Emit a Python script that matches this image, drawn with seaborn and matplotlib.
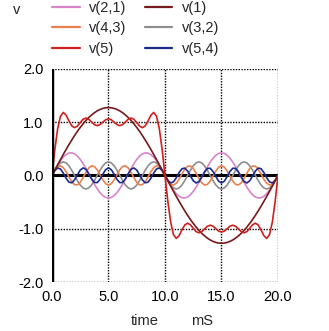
import matplotlib
matplotlib.use("Agg")
import matplotlib.pyplot as plt
from matplotlib.lines import Line2D
import seaborn as sns
import pandas as pd

# time axis (ms), sampled every 0.25 ms
time = [i * 0.25 for i in range(81)]

v1 = [0, 0.100, 0.199, 0.297, 0.394, 0.487, 0.578, 0.665, 0.748, 0.827, 0.900, 0.968, 1.030, 1.086, 1.134, 1.176, 1.211, 1.238, 1.258, 1.269, 1.273,
      1.269, 1.258, 1.238, 1.211, 1.176, 1.134, 1.086, 1.030, 0.968, 0.900, 0.827, 0.748, 0.665, 0.578, 0.487, 0.394, 0.297, 0.199, 0.100, 0,
      -0.100, -0.199, -0.297, -0.394, -0.487, -0.578, -0.665, -0.748, -0.827, -0.900, -0.968, -1.030, -1.086, -1.134, -1.176, -1.211, -1.238, -1.258, -1.269, -1.273,
      -1.269, -1.258, -1.238, -1.211, -1.176, -1.134, -1.086, -1.030, -0.968, -0.900, -0.827, -0.748, -0.665, -0.578, -0.487, -0.394, -0.297, -0.199, -0.100, 0]

v21 = [0, 0.099, 0.193, 0.276, 0.343, 0.392, 0.419, 0.423, 0.404, 0.362, 0.300, 0.222, 0.131, 0.033, -0.066, -0.162, -0.250, -0.323, -0.378, -0.413, -0.424,
       -0.413, -0.378, -0.323, -0.250, -0.162, -0.066, 0.033, 0.131, 0.222, 0.300, 0.362, 0.404, 0.423, 0.419, 0.392, 0.343, 0.276, 0.193, 0.099, 0,
       -0.099, -0.193, -0.276, -0.343, -0.392, -0.419, -0.423, -0.404, -0.362, -0.300, -0.222, -0.131, -0.033, 0.066, 0.162, 0.250, 0.323, 0.378, 0.413, 0.424,
       0.413, 0.378, 0.323, 0.250, 0.162, 0.066, -0.033, -0.131, -0.222, -0.300, -0.362, -0.404, -0.423, -0.419, -0.392, -0.343, -0.276, -0.193, -0.099, 0]

v32 = [0, 0.097, 0.180, 0.235, 0.255, 0.235, 0.180, 0.097, 0, -0.097, -0.180, -0.235, -0.255, -0.235, -0.180, -0.097, 0, 0.097, 0.180, 0.235, 0.255,
       0.235, 0.180, 0.097, 0, -0.097, -0.180, -0.235, -0.255, -0.235, -0.180, -0.097, 0, 0.097, 0.180, 0.235, 0.255, 0.235, 0.180, 0.097, 0,
       -0.097, -0.180, -0.235, -0.255, -0.235, -0.180, -0.097, 0, 0.097, 0.180, 0.235, 0.255, 0.235, 0.180, 0.097, 0, -0.097, -0.180, -0.235, -0.255,
       -0.235, -0.180, -0.097, 0, 0.097, 0.180, 0.235, 0.255, 0.235, 0.180, 0.097, 0, -0.097, -0.180, -0.235, -0.255, -0.235, -0.180, -0.097, 0]

v43 = [0, 0.095, 0.162, 0.181, 0.147, 0.070, -0.029, -0.118, -0.173, -0.177, -0.129, -0.043, 0.056, 0.138, 0.180, 0.168, 0.107, 0.014, -0.083, -0.155, -0.182,
       -0.155, -0.083, 0.014, 0.107, 0.168, 0.180, 0.138, 0.056, -0.043, -0.129, -0.177, -0.173, -0.118, -0.029, 0.070, 0.147, 0.181, 0.162, 0.095, 0,
       -0.095, -0.162, -0.181, -0.147, -0.070, 0.029, 0.118, 0.173, 0.177, 0.129, 0.043, -0.056, -0.138, -0.180, -0.168, -0.107, -0.014, 0.083, 0.155, 0.182,
       0.155, 0.083, -0.014, -0.107, -0.168, -0.180, -0.138, -0.056, 0.043, 0.129, 0.177, 0.173, 0.118, 0.029, -0.070, -0.147, -0.181, -0.162, -0.095, 0]

v54 = [0, 0.092, 0.140, 0.121, 0.044, -0.054, -0.126, -0.138, -0.083, 0.011, 0.100, 0.141, 0.115, 0.033, -0.064, -0.131, -0.135, -0.074, 0.022, 0.108, 0.142,
       0.108, 0.022, -0.074, -0.135, -0.131, -0.064, 0.033, 0.115, 0.141, 0.100, 0.011, -0.083, -0.138, -0.126, -0.054, 0.044, 0.121, 0.140, 0.092, 0,
       -0.092, -0.140, -0.121, -0.044, 0.054, 0.126, 0.138, 0.083, -0.011, -0.100, -0.141, -0.115, -0.033, 0.064, 0.131, 0.135, 0.074, -0.022, -0.108, -0.142,
       -0.108, -0.022, 0.074, 0.135, 0.131, 0.064, -0.033, -0.115, -0.141, -0.100, -0.011, 0.083, 0.138, 0.126, 0.054, -0.044, -0.121, -0.140, -0.092, 0]

v5 = [0, 0.483, 0.874, 1.110, 1.182, 1.130, 1.023, 0.930, 0.896, 0.926, 0.992, 1.053, 1.077, 1.055, 1.004, 0.954, 0.934, 0.953, 0.999, 1.044, 1.063,
      1.044, 0.999, 0.953, 0.934, 0.954, 1.004, 1.055, 1.077, 1.053, 0.992, 0.926, 0.896, 0.930, 1.023, 1.130, 1.182, 1.110, 0.874, 0.483, 0,
      -0.483, -0.874, -1.110, -1.182, -1.130, -1.023, -0.930, -0.896, -0.926, -0.992, -1.053, -1.077, -1.055, -1.004, -0.954, -0.934, -0.953, -0.999, -1.044, -1.063,
      -1.044, -0.999, -0.953, -0.934, -0.954, -1.004, -1.055, -1.077, -1.053, -0.992, -0.926, -0.896, -0.930, -1.023, -1.130, -1.182, -1.110, -0.874, -0.483, 0]

series_names = ["v(2,1)", "v(4,3)", "v(5)", "v(1)", "v(3,2)", "v(5,4)"]
series_values = [v21, v43, v5, v1, v32, v54]
colors = {"v(2,1)": "#d884c8", "v(4,3)": "#e8814c", "v(5)": "#d01f1f",
          "v(1)": "#761b1b", "v(3,2)": "#8e8e8e", "v(5,4)": "#1c2a8c"}
draw_order = ["v(2,1)", "v(3,2)", "v(4,3)", "v(5,4)", "v(1)", "v(5)"]

x_ticks = [0.0, 5.0, 10.0, 15.0, 20.0]
y_ticks = [-2.0, -1.0, 0.0, 1.0, 2.0]

rows = []
for name, vals in zip(series_names, series_values):
    for t, v in zip(time, vals):
        rows.append({"time": t, "v": v, "series": name})
df = pd.DataFrame(rows)

sns.set_theme(style="white")
plt.rcParams["font.family"] = ["Liberation Sans", "DejaVu Sans"]

fig = plt.figure(figsize=(3.29, 3.31), dpi=100)
ax = fig.add_axes([0.158, 0.148, 0.687, 0.644])

for name in draw_order:
    sns.lineplot(data=df[df["series"] == name], x="time", y="v", color=colors[name],
                 linewidth=1.2, ax=ax, legend=False, zorder=3)

ax.set_xlim(0, 20)
ax.set_ylim(-2, 2)
ax.set_xticks(x_ticks)
ax.set_yticks(y_ticks)
ax.set_xticklabels([f"{t:.1f}" for t in x_ticks], fontsize=10.5)
ax.set_yticklabels([f"{t:.1f}" for t in y_ticks], fontsize=10.5)
ax.tick_params(axis="both", length=0, pad=6, colors="black")

# dotted grid
for xv in x_ticks[1:]:
    ax.axvline(xv, color="black", linestyle=(0, (1, 1.0)), linewidth=1.0, zorder=1)
for yv in y_ticks:
    if yv != 0:
        ax.axhline(yv, color="black", linestyle=(0, (1, 1.0)), linewidth=1.0, zorder=1)
ax.axhline(0, color="black", linewidth=2.2, zorder=2)
ax.axvline(0, color="black", linewidth=2.5, zorder=4)

for s in ax.spines.values():
    s.set_visible(False)

ax.set_xlabel("")
ax.set_ylabel("")
fig.text(0.44, 0.008, "time", fontsize=10.5, ha="center", va="bottom")
fig.text(0.615, 0.008, "mS", fontsize=10.5, ha="center", va="bottom")
fig.text(0.052, 0.97, "v", fontsize=10.5, ha="center", va="center")

handles = [Line2D([0], [0], color=colors[n], linewidth=1.6) for n in series_names]
fig.legend(handles, series_names, ncol=2, loc="upper left", bbox_to_anchor=(0.118, 1.037),
           frameon=False, fontsize=10.5, handlelength=1.9, handletextpad=0.65,
           columnspacing=1.25, labelspacing=0.45)

fig.savefig("out.png", dpi=100)
